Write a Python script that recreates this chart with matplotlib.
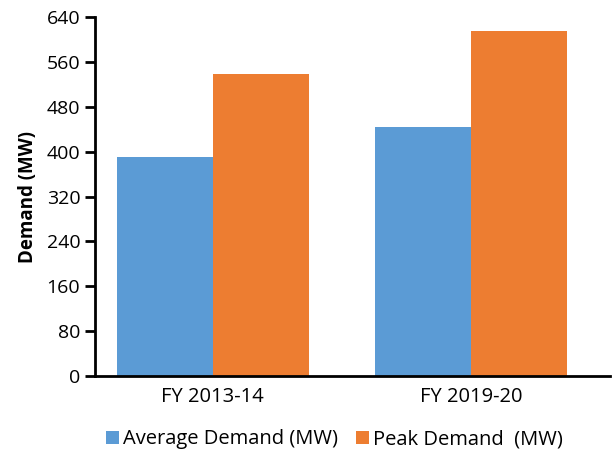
import matplotlib.pyplot as plt
import numpy as np

plt.rcParams['font.family'] = ['Open Sans', 'DejaVu Sans']

years = ['FY 2013-14', 'FY 2019-20']
average_demand = [391, 444]
peak_demand = [538, 616]
yticks = [0, 80, 160, 240, 320, 400, 480, 560, 640]

fig = plt.figure(figsize=(6.12, 4.54), dpi=100)
ax = fig.add_axes([0.155, 0.172, 0.842, 0.79])

x = np.arange(len(years))
w = 0.372
ax.bar(x - w / 2, average_demand, w, color='#5B9BD5', label='Average Demand (MW)')
ax.bar(x + w / 2, peak_demand, w, color='#ED7D31', label='Peak Demand  (MW)')

ax.set_xlim(-0.456, 1.538)
ax.set_ylim(0, 640)
ax.set_yticks(yticks)
ax.set_xticks(x)
ax.set_xticklabels(years, fontsize=14.5)
ax.tick_params(axis='y', labelsize=14, length=7, width=2, pad=3.5)
ax.tick_params(axis='x', length=0, pad=8)

for side in ['top', 'right']:
    ax.spines[side].set_visible(False)
ax.spines['left'].set_linewidth(2)
ax.spines['bottom'].set_linewidth(2)

ax.set_ylabel('Demand (MW)', fontsize=13.5, fontweight='bold', labelpad=6)

fig.legend(loc='center', bbox_to_anchor=(0.546, 0.032), ncol=2, frameon=False,
           fontsize=14.5, handlelength=0.65, handleheight=0.65, handletextpad=0.2,
           columnspacing=0.9)

fig.savefig('out.png', dpi=100)
